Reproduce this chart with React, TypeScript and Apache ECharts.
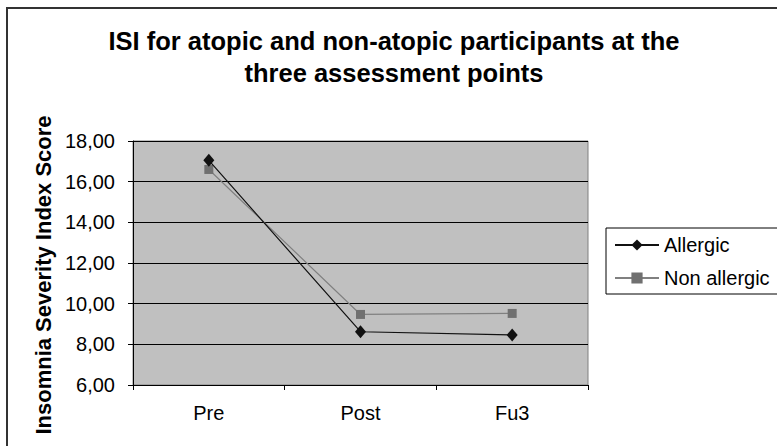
import React, { useEffect, useRef } from "react";
import * as echarts from "echarts";

const categories = ["Pre", "Post", "Fu3"];
const allergic = [17.05, 8.62, 8.46];
const nonAllergic = [16.6, 9.47, 9.52];
const yMin = 6;
const yMax = 18;
const yStep = 2;

const FONT = "'Liberation Sans', Arial, sans-serif";

export default function App() {
  const ref = useRef<HTMLDivElement>(null);
  useEffect(() => {
    if (!ref.current) return;
    const chart = echarts.init(ref.current, null, { renderer: "svg" });
    chart.setOption({
      animation: false,
      backgroundColor: "#ffffff",
      textStyle: { fontFamily: FONT },
      title: {
        text: "ISI for atopic and non-atopic participants at the\nthree assessment points",
        left: 389,
        top: 20,
        textAlign: "center",
        textStyle: {
          fontFamily: FONT,
          fontSize: 25.5,
          fontWeight: "bold",
          color: "#000",
          lineHeight: 32,
        },
      },
      legend: {
        left: 606,
        top: 228,
        orient: "vertical",
        backgroundColor: "#fff",
        borderColor: "#000",
        borderWidth: 1,
        padding: [7, 30, 6, 8],
        itemWidth: 44,
        itemHeight: 14,
        itemGap: 13,
        textStyle: { fontFamily: FONT, fontSize: 20, color: "#000" },
        data: ["Allergic", "Non allergic"],
      },
      grid: {
        left: 133,
        top: 141,
        right: 189,
        bottom: 61,
        show: true,
        backgroundColor: "#c0c0c0",
        borderColor: "#808080",
        borderWidth: 1,
      },
      xAxis: {
        type: "category",
        data: categories,
        boundaryGap: true,
        axisLine: { lineStyle: { color: "#000", width: 1 } },
        axisTick: { show: true, length: 5, lineStyle: { color: "#000" } },
        axisLabel: { fontFamily: FONT, fontSize: 20, color: "#000", margin: 18 },
      },
      yAxis: {
        type: "value",
        min: yMin,
        max: yMax,
        interval: yStep,
        axisLine: { show: true, lineStyle: { color: "#000", width: 1 } },
        axisTick: { show: true, length: 5, lineStyle: { color: "#000" } },
        axisLabel: {
          fontFamily: FONT,
          fontSize: 20,
          color: "#000",
          margin: 18,
          formatter: (v: number) => v.toFixed(2).replace(".", ","),
        },
        splitLine: { show: true, lineStyle: { color: "#000", width: 1 } },
      },
      graphic: [
        {
          type: "rect",
          shape: { x: 7, y: 8, width: 800, height: 500 },
          style: { fill: "none", stroke: "#333", lineWidth: 2 },
          silent: true,
        },
        {
          type: "text",
          x: 43,
          y: 275,
          rotation: Math.PI / 2,
          style: {
            text: "Insomnia Severity Index Score",
            fontFamily: FONT,
            fontSize: 22,
            fontWeight: "bold",
            fill: "#000",
            align: "center",
            verticalAlign: "middle",
          },
        },
      ],
      series: [
        {
          name: "Allergic",
          type: "line",
          data: allergic,
          symbol: "diamond",
          symbolSize: [11, 13],
          lineStyle: { color: "#111", width: 1.2 },
          itemStyle: { color: "#111" },
          z: 3,
        },
        {
          name: "Non allergic",
          type: "line",
          data: nonAllergic,
          symbol: "rect",
          symbolSize: 9,
          lineStyle: { color: "#808080", width: 1.2 },
          itemStyle: { color: "#707070" },
          z: 2,
        },
      ],
    });
    return () => chart.dispose();
  }, []);
  return (
    <div
      ref={ref}
      style={{ position: "fixed", left: 0, top: 0, width: 777, height: 446 }}
    />
  );
}
